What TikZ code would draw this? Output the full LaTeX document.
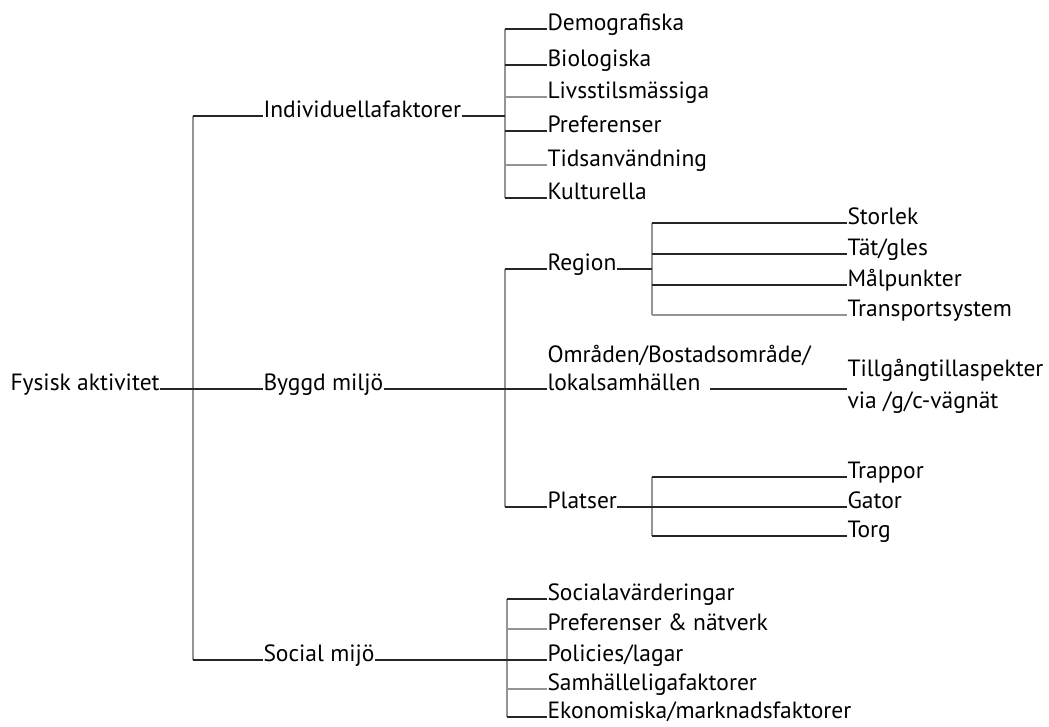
\documentclass[tikz,border=0pt]{standalone}
\usepackage{fontspec}
\setmainfont{PT Sans}
\usetikzlibrary{positioning}
\tikzset{
  lbl/.style={anchor=west,inner sep=0.5pt,outer sep=0pt,text=black,
    font=\fontsize{23.5}{32}\selectfont,text height=1ex,text depth=0.3ex},
  dk/.style={draw=black!85,line width=1.8pt},
  lt/.style={draw=black!42,line width=1.8pt},
}
\begin{document}
\begin{tikzpicture}[x=1pt,y=-1pt]
\useasboundingbox (0,0) rectangle (1049,727);
% level 0 and 1
\node[lbl] (fys) at (10,389) {Fysisk aktivitet};
\node[lbl] (ind) at (263,116) {Individuellafaktorer};
\node[lbl] (byg) at (263,389) {Byggd miljö};
\node[lbl] (soc) at (263,660) {Social mijö};
% individuella faktorer
\node[lbl] (dem) at (547,29) {Demografiska};
\node[lbl] (bio) at (547,65) {Biologiska};
\node[lbl] (liv) at (547,97) {Livsstilsmässiga};
\node[lbl] (pre) at (547,131) {Preferenser};
\node[lbl] (tid) at (547,165) {Tidsanvändning};
\node[lbl] (kul) at (547,198) {Kulturella};
% byggd miljö
\node[lbl] (reg) at (547,269) {Region};
\node[lbl] (omr1) at (547,361) {Områden/Bostadsområde/};
\node[lbl] (omr2) at (547,389) {lokalsamhällen};
\node[lbl] (pla) at (547,507) {Platser};
\node[lbl] (sto) at (847,223) {Storlek};
\node[lbl] (tat) at (847,254) {Tät/gles};
\node[lbl] (mal) at (847,285) {Målpunkter};
\node[lbl] (tra) at (847,315) {Transportsystem};
\node[lbl,align=left,text height=,text depth=] (til) at (847,386) {Tillgångtillaspekter\\via /g/c-vägnät};
\node[lbl] (trp) at (847,477) {Trappor};
\node[lbl] (gat) at (847,507) {Gator};
\node[lbl] (tor) at (847,536) {Torg};
% social miljö
\node[lbl] (sva) at (547,599) {Socialavärderingar};
\node[lbl] (pnv) at (547,629) {Preferenser \& nätverk};
\node[lbl] (pol) at (547,660) {Policies/lagar};
\node[lbl] (sam) at (547,689) {Samhälleligafaktorer};
\node[lbl] (eko) at (547,717) {Ekonomiska/marknadsfaktorer};

\coordinate (spT) at (193,116);
\coordinate (spB) at (193,660);
\coordinate (iv) at (505,116);
\coordinate (bv) at (505,389);
\coordinate (rv) at (652,269);
\coordinate (pv) at (652,507);
\coordinate (sv) at (507,660);

% main spine
\draw[lt] (spT) -- (spB);
\draw[dk] (spT) -- (ind.west);
\draw[dk] (fys.east) -- (byg.west);
\draw[dk] (spB) -- (soc.west);

\draw[lt] (iv |- dem.west) -- (iv |- kul.west);
\draw[dk] (ind.east) -- (iv);
\draw[dk] (iv |- dem.west) -- (dem.west);
\draw[dk] (iv |- bio.west) -- (bio.west);
\draw[lt] (iv |- liv.west) -- (liv.west);
\draw[dk] (iv |- pre.west) -- (pre.west);
\draw[lt] (iv |- tid.west) -- (tid.west);
\draw[dk] (iv |- kul.west) -- (kul.west);

\draw[lt] (bv |- reg.west) -- (bv |- pla.west);
\draw[dk] (byg.east) -- (omr2.west);
\draw[dk] (bv |- reg.west) -- (reg.west);
\draw[dk] (bv |- pla.west) -- (pla.west);
\draw[dk] ([xshift=9pt]omr2.east) -- (omr2.east -| til.west);

\draw[lt] (rv |- sto.west) -- (rv |- tra.west);
\draw[dk] (reg.east) -- (rv);
\draw[dk] (rv |- sto.west) -- (sto.west);
\draw[dk] (rv |- tat.west) -- (tat.west);
\draw[dk] (rv |- mal.west) -- (mal.west);
\draw[lt] (rv |- tra.west) -- (tra.west);

\draw[lt] (pv |- trp.west) -- (pv |- tor.west);
\draw[dk] (pla.east) -- (gat.west);
\draw[dk] (pv |- trp.west) -- (trp.west);
\draw[dk] (pv |- tor.west) -- (tor.west);

\draw[lt] (sv |- sva.west) -- (sv |- eko.west);
\draw[dk] (soc.east) -- (pol.west);
\draw[dk] (sv |- sva.west) -- (sva.west);
\draw[lt] (sv |- pnv.west) -- (pnv.west);
\draw[lt] (sv |- sam.west) -- (sam.west);
\draw[dk] (sv |- eko.west) -- (eko.west);

\end{tikzpicture}
\end{document}
